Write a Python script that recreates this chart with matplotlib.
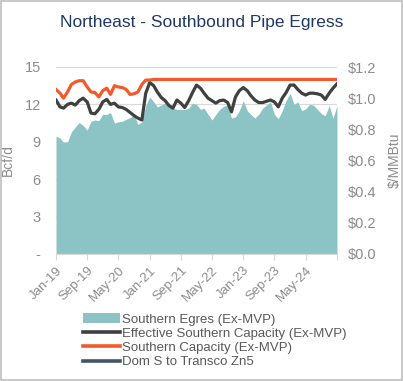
import numpy as np
import pandas as pd
import matplotlib
matplotlib.use("Agg")
import matplotlib.pyplot as plt
from matplotlib.patches import Rectangle, Patch
from matplotlib.lines import Line2D

plt.rcParams['font.family'] = ['Liberation Sans', 'DejaVu Sans']

months = pd.date_range("2019-01-01", "2025-01-01", freq="MS")

southern_egress = [9.45, 9.3, 8.95, 9.0, 9.8, 10.2, 10.55, 10.3, 9.95, 10.65, 10.75, 10.7,
                   11.2, 11.2, 11.35, 10.5, 10.6, 10.65, 10.8, 10.95, 11.15, 10.4, 10.6, 11.9,
                   12.6, 12.2, 11.8, 11.95, 12.1, 11.9, 11.7, 11.6, 11.6, 11.6, 11.7, 12.1,
                   12.0, 11.6, 11.7, 11.2, 10.75, 11.2, 11.6, 11.85, 11.95, 10.9, 11.0, 11.5,
                   12.3, 11.5, 11.2, 10.9, 11.2, 11.7, 11.95, 12.2, 11.2, 10.85, 11.5, 12.3,
                   12.9, 12.0, 12.2, 11.5, 11.65, 12.0, 11.95, 11.6, 11.25, 11.1, 11.9, 10.9,
                   11.9]

effective_capacity = [12.35, 11.8, 11.7, 12.0, 12.1, 11.95, 12.3, 12.5, 12.2, 11.3, 11.25, 11.6,
                      12.2, 12.4, 12.0, 12.1, 11.8, 11.75, 11.6, 11.35, 11.1, 10.9, 10.75, 12.9,
                      13.75, 13.5, 13.0, 12.55, 12.3, 11.9, 11.7, 12.35, 12.1, 11.75, 12.3, 12.95,
                      13.55, 13.3, 12.9, 12.5, 12.3, 12.1, 12.3, 12.35, 12.15, 11.4, 12.6, 13.1,
                      13.35, 13.1, 12.7, 12.35, 12.15, 12.15, 12.25, 12.35, 12.2, 11.8, 12.5, 12.95,
                      13.55, 13.55, 13.2, 12.9, 12.75, 12.9, 12.9, 12.85, 12.75, 12.4, 12.9, 13.3,
                      13.65]

southern_capacity = [13.2, 12.9, 12.5, 13.0, 13.6, 13.8, 13.9, 13.9, 13.4, 13.0, 12.95, 12.6,
                     13.1, 13.3, 12.8, 13.5, 13.4, 13.35, 13.2, 12.8, 12.85, 13.0, 13.6, 13.95,
                     13.95] + [14.0] * 48

# no visible data for this series in the chart
dom_s_transco = []

tick_months = pd.date_range("2019-01-01", "2025-01-01", freq="8MS")
tick_labels = ["Jan-19", "Sep-19", "May-20", "Jan-21", "Sep-21", "May-22",
               "Jan-23", "Sep-23", "May-24", ""]

teal = "#8CC4C6"
orange = "#F35A2B"
dark = "#404040"
navy = "#44546A"
gray_txt = "#8C8C8C"

fig = plt.figure(figsize=(4.03, 3.81), dpi=100)
ax = fig.add_axes([56 / 403, 1 - 254 / 381, 281 / 403, 187 / 381])
ax2 = ax.twinx()

ax.fill_between(months, southern_egress, color=teal, lw=0, zorder=2)
ax.plot(months, effective_capacity, color=dark, lw=2.3, zorder=3)
ax.plot(months, southern_capacity, color=orange, lw=2.3, zorder=4)
ax2.plot(months[:len(dom_s_transco)], dom_s_transco, color=navy, lw=2.3)

ax.set_xlim(months[0], months[-1])
ax.set_ylim(0, 15)
ax.set_yticks([0, 3, 6, 9, 12, 15])
ax.set_yticklabels(["-", "3", "6", "9", "12", "15"])
ax.grid(axis="y", color="#D9D9D9", lw=0.8, zorder=0)
ax.set_axisbelow(True)

ax2.set_ylim(0, 1.2)
ax2.set_yticks(np.arange(0, 1.21, 0.2))
ax2.set_yticklabels(["$%.1f" % v for v in np.arange(0, 1.21, 0.2)])

ax.set_xticks(tick_months)
ax.set_xticklabels(tick_labels, rotation=45, ha="right", rotation_mode="anchor")

for a in (ax, ax2):
    for s in a.spines.values():
        s.set_visible(False)
    a.tick_params(axis="y", length=0, colors=gray_txt, labelsize=10.5)
ax.spines["bottom"].set_visible(True)
ax.spines["bottom"].set_color("#D9D9D9")
ax.tick_params(axis="x", length=4, color="#D9D9D9", colors=gray_txt, labelsize=9.5)
ax.tick_params(axis="y", pad=11)
ax2.tick_params(axis="y", pad=8)

ax.set_ylabel("Bcf/d", color=gray_txt, fontsize=10)
ax.yaxis.set_label_coords(-41 / 281, 0.5)
ax2.set_ylabel("$/MMBtu", color=gray_txt, fontsize=10)
ax2.yaxis.set_label_coords(1 + 51 / 281, 0.5)

fig.text(0.5, 1 - 22 / 381, "Northeast - Southbound Pipe Egress", ha="center", va="center",
         color="#1F3864", fontsize=12.5)

handles = [Patch(facecolor=teal, edgecolor="none"),
           Line2D([], [], color=dark, lw=2.6),
           Line2D([], [], color=orange, lw=2.6),
           Line2D([], [], color=navy, lw=2.6)]
labels = ["Southern Egres (Ex-MVP)", "Effective Southern Capacity (Ex-MVP)",
          "Southern Capacity (Ex-MVP)", "Dom S to Transco Zn5"]
fig.legend(handles, labels, loc="upper left", bbox_to_anchor=(78 / 403, 1 - 308 / 381),
           frameon=False, fontsize=9.5, labelcolor="#595959", handlelength=2.8,
           handletextpad=0.1, labelspacing=0.15, borderaxespad=0)

fig.add_artist(Rectangle((0.002, 0.002), 0.996, 0.996, transform=fig.transFigure,
                         fill=False, edgecolor="#BFBFBF", lw=1.2))

fig.savefig("out.png", dpi=100)
